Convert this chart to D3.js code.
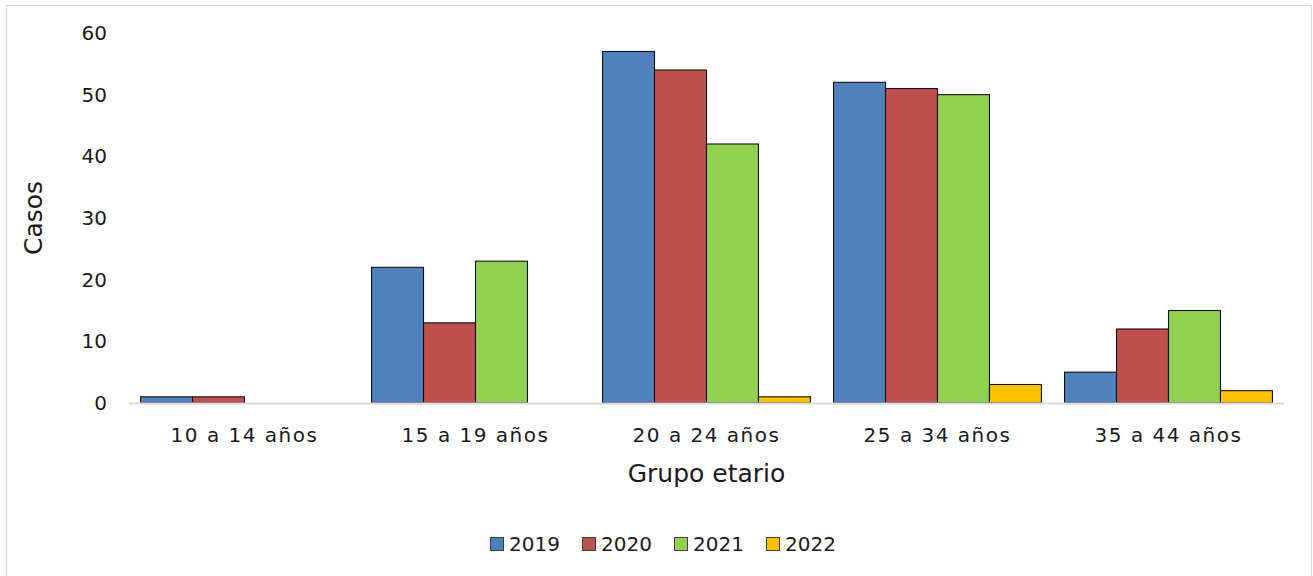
<!DOCTYPE html>
<html>
<head>
<meta charset="utf-8">
<script src="https://cdn.jsdelivr.net/npm/d3@7"></script>
<style>
  html, body { margin: 0; padding: 0; background: #fff; }
  svg { display: block; font-family: "DejaVu Sans", sans-serif; }
</style>
</head>
<body>
<svg id="chart" width="1313" height="576"></svg>
<script>
// Casos por grupo etario y año
const categories = ["10 a 14 años", "15 a 19 años", "20 a 24 años", "25 a 34 años", "35 a 44 años"];
const years = ["2019", "2020", "2021", "2022"];
const values2019 = [1, 22, 57, 52, 5];
const values2020 = [1, 13, 54, 51, 12];
const values2021 = [0, 23, 42, 50, 15];
const values2022 = [0, 0, 1, 3, 2];
const yTicks = [0, 10, 20, 30, 40, 50, 60];
const colors = ["#4F81BD", "#C0504D", "#92D050", "#FFC000"];

const seriesValues = [values2019, values2020, values2021, values2022];
const rows = categories.map((c, i) => ({
  category: c,
  bars: years.map((y, j) => ({ year: y, value: seriesValues[j][i], color: colors[j] }))
}));

const svg = d3.select("#chart");
const W = 1313, H = 576;
const plot = { left: 129, right: 1284, top: 33, bottom: 403 };
const textColor = "#1a1a1a";
const font = "'DejaVu Sans', sans-serif";

// outer chart frame
svg.append("rect")
  .attr("x", 6.5).attr("y", 5.5)
  .attr("width", W - 8).attr("height", H + 10)
  .attr("fill", "#fff").attr("stroke", "#d9d9d9").attr("stroke-width", 1.2);

const x0 = d3.scaleBand().domain(categories)
  .range([plot.left, plot.right]).paddingInner(0.1).paddingOuter(0.05);
const x1 = d3.scaleBand().domain(years).range([0, x0.bandwidth()]).padding(0);
const y = d3.scaleLinear().domain([0, 60]).range([plot.bottom, plot.top]);

// bars
const groups = svg.append("g").selectAll("g").data(rows).join("g")
  .attr("transform", d => `translate(${x0(d.category)},0)`);
groups.selectAll("rect").data(d => d.bars.filter(b => b.value > 0)).join("rect")
  .attr("x", d => x1(d.year))
  .attr("y", d => y(d.value))
  .attr("width", x1.bandwidth())
  .attr("height", d => y(0) - y(d.value))
  .attr("fill", d => d.color)
  .attr("stroke", "#111").attr("stroke-width", 1.1);

// baseline
svg.append("line")
  .attr("x1", plot.left).attr("x2", plot.right)
  .attr("y1", y(0) + 0.5).attr("y2", y(0) + 0.5)
  .attr("stroke", "#d9d9d9").attr("stroke-width", 2);

// y axis labels
const yAxis = d3.axisLeft(y).tickValues(yTicks).tickSize(0).tickPadding(0);
const gy = svg.append("g").attr("transform", `translate(${plot.left - 22},0)`).call(yAxis);
gy.select(".domain").remove();
gy.selectAll("text").attr("font-size", 20).attr("fill", textColor).attr("font-family", font);

// x axis labels
const xAxis = d3.axisBottom(x0).tickSize(0).tickPadding(0);
const gx = svg.append("g").attr("transform", `translate(0,${plot.bottom + 25})`).call(xAxis);
gx.select(".domain").remove();
gx.selectAll("text").attr("font-size", 20).attr("fill", textColor).attr("font-family", font)
  .attr("letter-spacing", 1.5);

// axis titles
svg.append("text")
  .attr("x", (plot.left + plot.right) / 2).attr("y", 482)
  .attr("text-anchor", "middle").attr("font-size", 25).attr("fill", textColor)
  .text("Grupo etario");
svg.append("text")
  .attr("transform", `translate(42,${(plot.top + plot.bottom) / 2}) rotate(-90)`)
  .attr("text-anchor", "middle").attr("font-size", 25).attr("fill", textColor)
  .text("Casos");

// legend
const legendItems = years.map((yr, i) => ({ year: yr, color: colors[i] }));
const itemW = 92;
const legendX = 490;
const legend = svg.append("g").attr("transform", `translate(${legendX},544)`);
const li = legend.selectAll("g").data(legendItems).join("g")
  .attr("transform", (d, i) => `translate(${i * itemW},0)`);
li.append("rect").attr("x", 0.5).attr("y", -6.5).attr("width", 13).attr("height", 13)
  .attr("fill", d => d.color).attr("stroke", "#404040").attr("stroke-width", 1);
li.append("text").attr("x", 19).attr("y", 0).attr("dy", "0.36em")
  .attr("font-size", 20).attr("fill", textColor).text(d => d.year);
</script>
</body>
</html>
